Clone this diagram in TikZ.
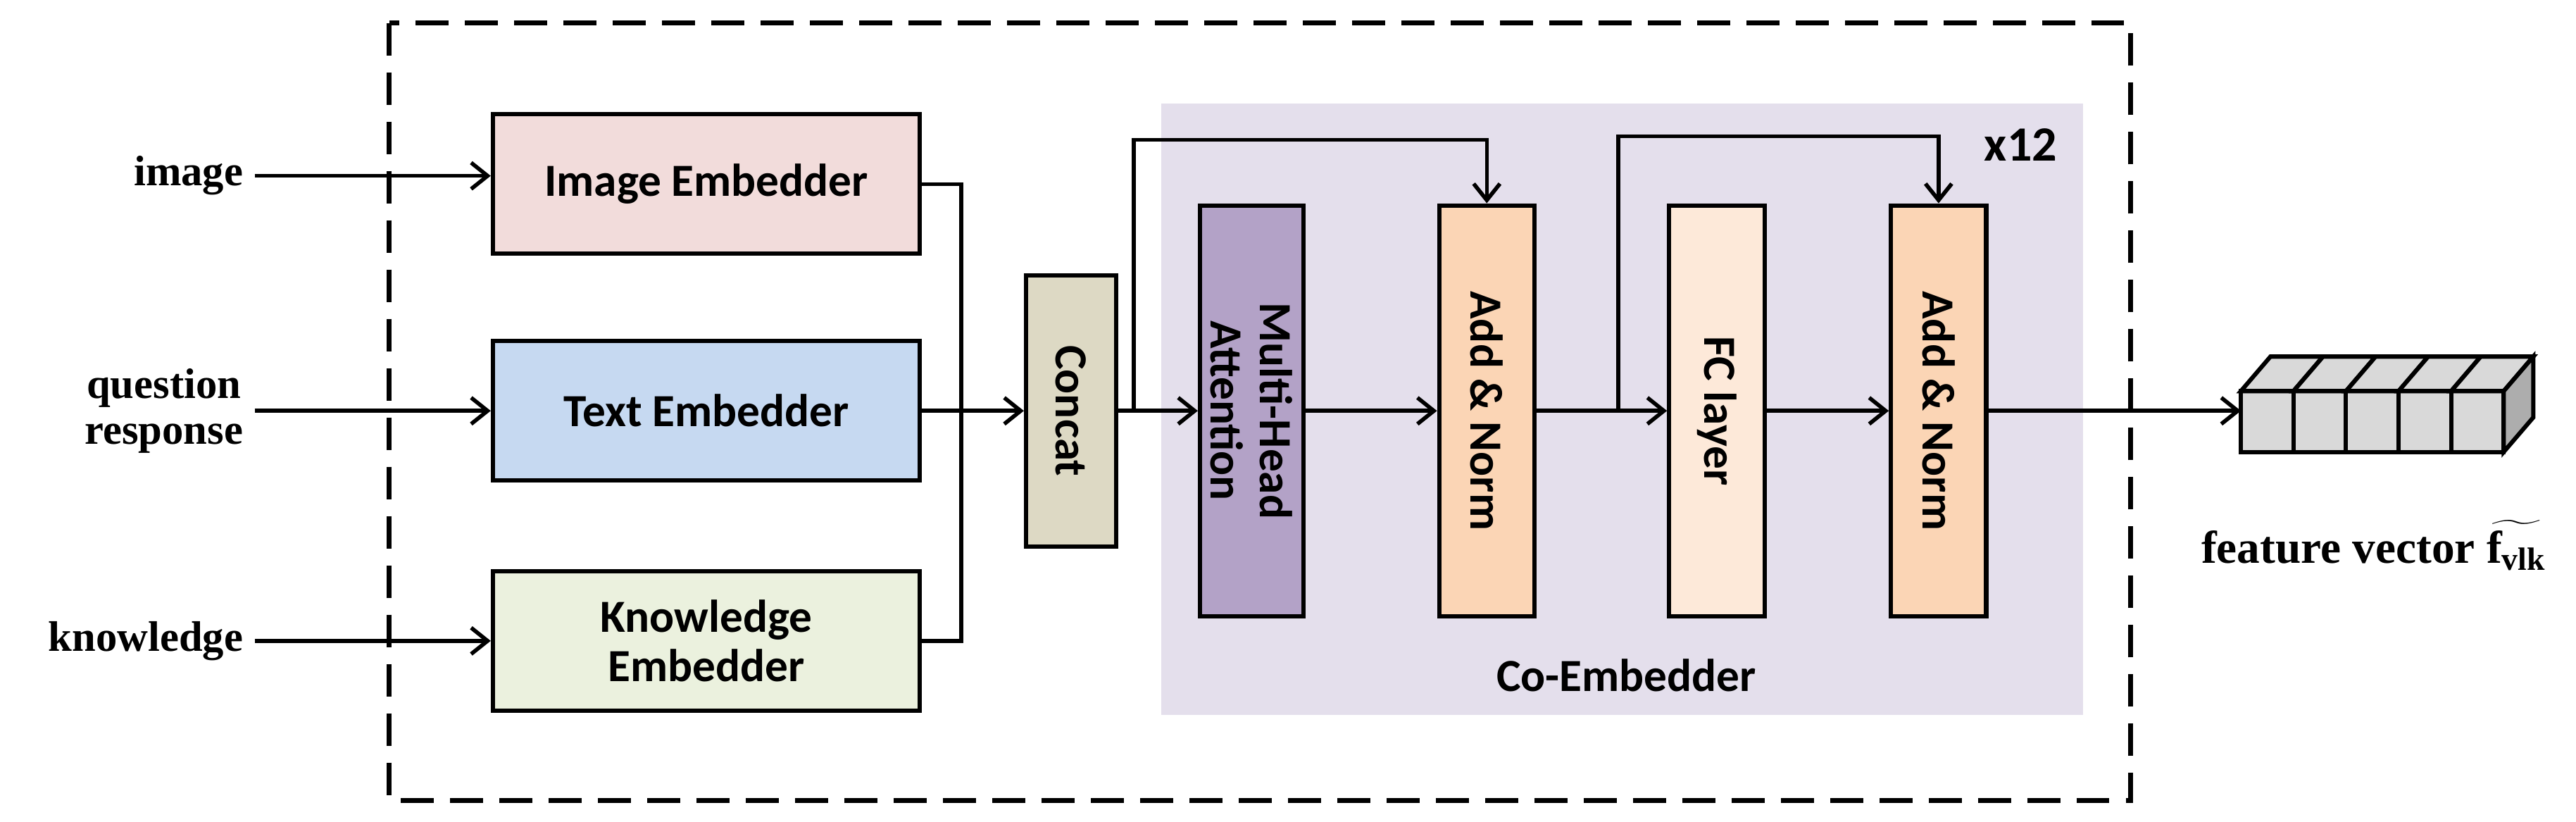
\documentclass[tikz,border=0pt]{standalone}
\usepackage{fontspec}
\setmainfont{Liberation Serif}
\newfontfamily\boxfont{Carlito}
\usetikzlibrary{arrows.meta}
\definecolor{imgcol}{HTML}{F2DCDB}
\definecolor{txtcol}{HTML}{C6D9F1}
\definecolor{kncol}{HTML}{EBF1DE}
\definecolor{catcol}{HTML}{DDD9C4}
\definecolor{cocol}{HTML}{E4DFEC}
\definecolor{mhacol}{HTML}{B3A2C7}
\definecolor{ancol}{HTML}{FBD5B5}
\definecolor{fccol}{HTML}{FDE9D9}
\begin{document}
\begin{tikzpicture}[
      x=0.5pt, y=-0.5pt,
      emb/.style={draw, line width=1.3pt, minimum width=130, minimum height=42.5, align=center,
        font=\boxfont\bfseries\fontsize{14}{15}\selectfont},
      layer/.style={draw, line width=1.3pt, minimum width=125, minimum height=29, align=center,
        rotate=-90, font=\boxfont\bfseries\fontsize{14}{15}\selectfont},
      inlab/.style={align=center, font=\bfseries\fontsize{13}{14}\selectfont},
      arr/.style={-{Straight Barb[length=5pt,width=8pt]}, line width=1.2pt},
      line/.style={line width=1.2pt}
    ]
    \useasboundingbox (0,0) rectangle (1568,500);
    % frame and background
    \draw[line width=1.5pt, dash pattern=on 10pt off 5pt] (237,14) rectangle (1297,487);
    \fill[cocol] (707,63) rectangle (1268,435);
    \node[font=\boxfont\bfseries\fontsize{14}{15}\selectfont] (colab) at (990,411) {Co-Embedder};
    \node[font=\boxfont\bfseries\fontsize{15}{16}\selectfont] (rep) at (1230,88) {x12};
    % embedders
    \node[emb, fill=imgcol] (img) at (430,112) {Image Embedder};
    \node[emb, fill=txtcol] (txt) at (430,250) {Text Embedder};
    \node[emb, fill=kncol] (kn) at (430,390) {Knowledge\\Embedder};
    \node[inlab, anchor=east] (limg) at (155,107) {image};
    \node[inlab, anchor=east] (ltxt) at (155,250) {question\\response};
    \node[inlab, anchor=east] (lkn) at (155,390) {knowledge};
    \draw[arr] (limg.east) -- (img.west |- limg.east);
    \draw[arr] (ltxt.east) -- (txt.west |- ltxt.east);
    \draw[arr] (lkn.east) -- (kn.west |- lkn.east);
    % concat and co-embedder layers
    \node[layer, minimum width=82.5, minimum height=27.5, fill=catcol] (cat) at (652,250) {Concat};
    \node[layer, fill=mhacol] (mha) at (762,250) {Multi-Head\\Attention};
    \node[layer, fill=ancol] (an1) at (905,250) {Add \& Norm};
    \node[layer, fill=fccol] (fc) at (1045,250) {FC layer};
    \node[layer, fill=ancol] (an2) at (1180,250) {Add \& Norm};
    \coordinate (join) at (585,250);
    \draw[line] (img.east) -| (join);
    \draw[line] (kn.east) -| (join);
    \draw[arr] (txt.east) -- (cat.south);
    \draw[arr] (cat.north) -- (mha.south);
    \draw[arr] (mha.north) -- (an1.south);
    \draw[arr] (an1.north) -- (fc.south);
    \draw[arr] (fc.north) -- (an2.south);
    % residual connections
    \coordinate (s1) at (690,250);
    \coordinate (s2) at (985,250);
    \draw[arr] (s1) -- ++(0,-165) -| (an1.west);
    \draw[arr] (s2) -- ++(0,-167) -| (an2.west);
    % feature vector
    \coordinate (vec) at (1364,250);
    \draw[arr] (an2.north) -- (vec);
    \foreach \i in {0,...,4} {
      \draw[line width=1.3pt, fill=black!15] (1364+32*\i,238) rectangle ++(32,37);
      \draw[line width=1.3pt, fill=black!15] (1364+32*\i,238) -- ++(18,-21) -- ++(32,0) -- ++(-18,21) -- cycle;
    }
    \draw[line width=1.3pt, fill=black!32] (1524,238) -- ++(18,-21) -- ++(0,37) -- ++(-18,21) -- cycle;
    \node[inlab, font=\bfseries\fontsize{14}{15}\selectfont] (flab) at (1445,332) {feature vector $\widetilde{\mathbf{f}_{\mathbf{vlk}}}$};
\end{tikzpicture}
\end{document}
